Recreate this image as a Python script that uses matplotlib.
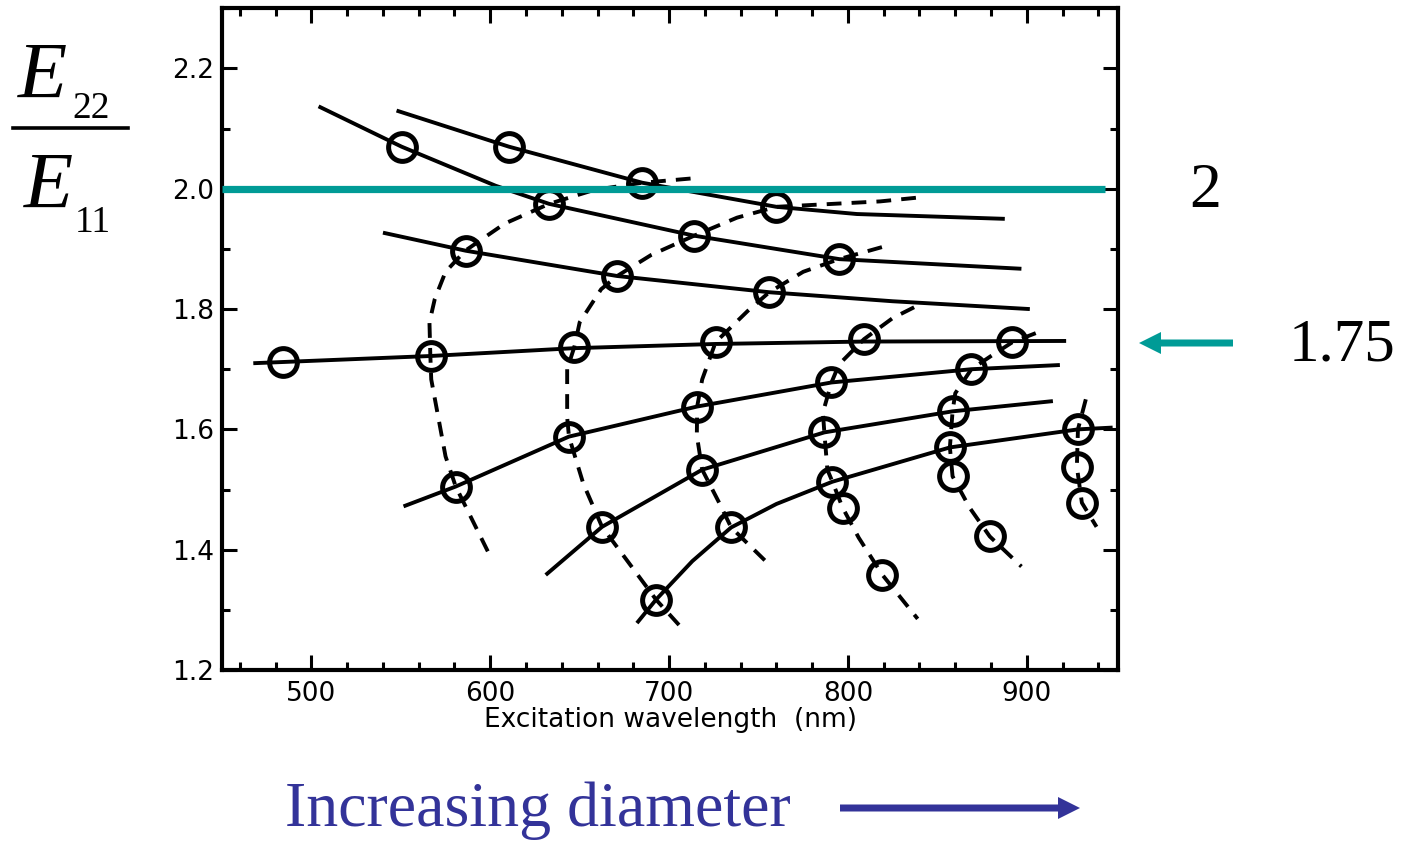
import matplotlib
matplotlib.use("Agg")
import matplotlib.pyplot as plt
from matplotlib.ticker import MultipleLocator, FormatStrFormatter

# --- data: wavelength (nm) vs E22/E11 ---
# solid curves (families)
s1_wl = [547.6, 610.4, 685.0, 760.0, 805.0, 887.7]
s1_r = [2.130, 2.070, 2.010, 1.970, 1.958, 1.950]
s2_wl = [504.0, 550.4, 603.0, 632.8, 714.0, 795.2, 897.0]
s2_r = [2.137, 2.070, 2.005, 1.975, 1.922, 1.883, 1.867]
s3_wl = [540.0, 586.3, 670.9, 756.0, 825.0, 901.7]
s3_r = [1.927, 1.897, 1.855, 1.828, 1.813, 1.800]
s4_wl = [467.5, 566.7, 646.8, 726.0, 809.0, 922.0]
s4_r = [1.710, 1.722, 1.735, 1.742, 1.746, 1.747]
s5_wl = [551.5, 580.7, 644.0, 715.7, 790.8, 869.0, 918.5]
s5_r = [1.472, 1.505, 1.588, 1.638, 1.678, 1.700, 1.707]
s6_wl = [631.0, 662.5, 718.5, 786.8, 858.5, 914.6]
s6_r = [1.358, 1.438, 1.533, 1.595, 1.630, 1.647]
s7_wl = [682.0, 692.7, 713.0, 734.7, 760.0, 791.3, 857.0, 928.6, 948.0]
s7_r = [1.278, 1.317, 1.381, 1.437, 1.476, 1.513, 1.570, 1.600, 1.603]

# dashed curves
d1_wl = [712, 685, 658, 633, 608, 586, 575, 569, 566, 566.5, 567, 575, 580.7, 599]
d1_r = [2.017, 2.010, 1.998, 1.975, 1.942, 1.897, 1.862, 1.817, 1.778, 1.722, 1.683, 1.555, 1.505, 1.395]
d2_wl = [838, 818, 760, 738, 714, 690, 671, 662, 650, 647, 643, 643, 644, 652, 662.5, 677, 692.7, 707]
d2_r = [1.985, 1.979, 1.970, 1.952, 1.922, 1.890, 1.855, 1.833, 1.778, 1.737, 1.700, 1.620, 1.588, 1.510, 1.438, 1.380, 1.317, 1.270]
d3_wl = [819, 795, 775, 756, 744, 726, 718.5, 715.7, 715.5, 718.5, 728, 734.7, 755]
d3_r = [1.903, 1.883, 1.862, 1.828, 1.797, 1.745, 1.683, 1.638, 1.590, 1.533, 1.478, 1.437, 1.378]
d4_wl = [837, 825, 809, 795, 790.8, 786, 786.8, 788.5, 791.3, 797, 806, 819.3, 839]
d4_r = [1.803, 1.785, 1.750, 1.708, 1.678, 1.628, 1.595, 1.533, 1.513, 1.470, 1.420, 1.358, 1.285]
d5_wl = [905, 892, 880, 869, 860, 858.5, 857, 858.5, 868, 879.3, 897]
d5_r = [1.760, 1.745, 1.722, 1.700, 1.660, 1.630, 1.570, 1.522, 1.470, 1.422, 1.372]
d6_wl = [933, 928.6, 928, 930.8, 939]
d6_r = [1.650, 1.600, 1.538, 1.478, 1.438]

# measured points (open circles)
pts_wl = [484.3, 550.4, 610.4, 685.0, 632.8, 586.3, 714.0, 760.0, 670.9, 795.2, 756.0,
          566.7, 646.8, 726.0, 809.0, 892.0, 580.7, 644.0, 715.7, 790.8, 869.0,
          662.5, 718.5, 786.8, 858.5, 928.6, 692.7, 734.7, 791.3, 857.0, 928.0,
          797.0, 858.5, 930.8, 879.3, 819.3]
pts_r = [1.712, 2.070, 2.070, 2.010, 1.975, 1.897, 1.922, 1.970, 1.855, 1.883, 1.828,
         1.722, 1.737, 1.745, 1.750, 1.745, 1.505, 1.588, 1.638, 1.678, 1.700,
         1.438, 1.533, 1.595, 1.630, 1.600, 1.317, 1.437, 1.513, 1.570, 1.538,
         1.470, 1.522, 1.478, 1.422, 1.358]

ref_level = 2.0
ref_end = 944

solid_curves = [(s1_wl, s1_r), (s2_wl, s2_r), (s3_wl, s3_r), (s4_wl, s4_r),
                (s5_wl, s5_r), (s6_wl, s6_r), (s7_wl, s7_r)]
dashed_curves = [(d1_wl, d1_r), (d2_wl, d2_r), (d3_wl, d3_r), (d4_wl, d4_r),
                 (d5_wl, d5_r), (d6_wl, d6_r)]

TEAL = '#009B96'
BLUE = '#333399'
W, H = 1404, 841

fig = plt.figure(figsize=(W / 100, H / 100), dpi=100)

# overlay in pixel coords for the slide annotations
ov = fig.add_axes([0, 0, 1, 1])
ov.set_xlim(0, W)
ov.set_ylim(H, 0)
ov.axis('off')

ax = fig.add_axes([222 / W, 1 - 670 / H, (1118 - 222) / W, (670 - 8.3) / H])

for wl, r in solid_curves:
    ax.plot(wl, r, color='black', lw=2.8, solid_capstyle='butt',
            solid_joinstyle='round', zorder=2)
for wl, r in dashed_curves:
    ax.plot(wl, r, color='black', lw=2.8, linestyle=(0, (3.8, 2.6)),
            dash_capstyle='butt', zorder=2)
ax.plot(pts_wl, pts_r, linestyle='none', marker='o', markersize=20,
        markerfacecolor='none', markeredgecolor='black', markeredgewidth=3.6, zorder=3)

ax.plot([450, ref_end], [ref_level, ref_level], color=TEAL, lw=5.2,
        solid_capstyle='butt', zorder=4)

ax.set_xlim(450, 951)
ax.set_ylim(1.2, 2.3)
ax.xaxis.set_major_locator(MultipleLocator(100))
ax.xaxis.set_minor_locator(MultipleLocator(20))
ax.yaxis.set_major_locator(MultipleLocator(0.2))
ax.yaxis.set_minor_locator(MultipleLocator(0.1))
ax.yaxis.set_major_formatter(FormatStrFormatter('%.1f'))
ax.tick_params(which='both', direction='in', top=True, right=True, width=2.2)
ax.tick_params(which='major', length=11)
ax.tick_params(which='minor', length=5.5)
ax.tick_params(axis='x', which='major', labelsize=19, pad=8)
ax.tick_params(axis='y', which='major', labelsize=19, pad=6)
for sp in ax.spines.values():
    sp.set_linewidth(3)
ax.set_xlabel('Excitation wavelength  (nm)', fontsize=19, labelpad=0)

# E22 / E11 label
serif = 'Liberation Serif'
ov.text(18, 98, 'E', fontsize=58, style='italic', family=serif, va='baseline')
ov.text(72, 118, '22', fontsize=27, family=serif, va='baseline')
ov.plot([13, 128], [128, 128], color='black', lw=2.6)
ov.text(24, 208, 'E', fontsize=58, style='italic', family=serif, va='baseline')
ov.text(75, 232, '11', fontsize=27, family=serif, va='baseline')

# right-hand annotations
ov.text(1205, 207, '2', fontsize=46, family=serif, ha='center', va='baseline')
ov.text(1342, 360, '1.75', fontsize=44, family=serif, ha='center', va='baseline')
ov.arrow(1233, 343, 1139 - 1233, 0, width=7, head_width=22, head_length=22,
         length_includes_head=True, color=TEAL, lw=0)

# bottom annotation
ov.text(285, 826, 'Increasing diameter', fontsize=46, family=serif, color=BLUE,
        va='baseline')
ov.arrow(840, 808, 1080 - 840, 0, width=7, head_width=22, head_length=22,
         length_includes_head=True, color=BLUE, lw=0)

fig.savefig('out.png', dpi=100)
